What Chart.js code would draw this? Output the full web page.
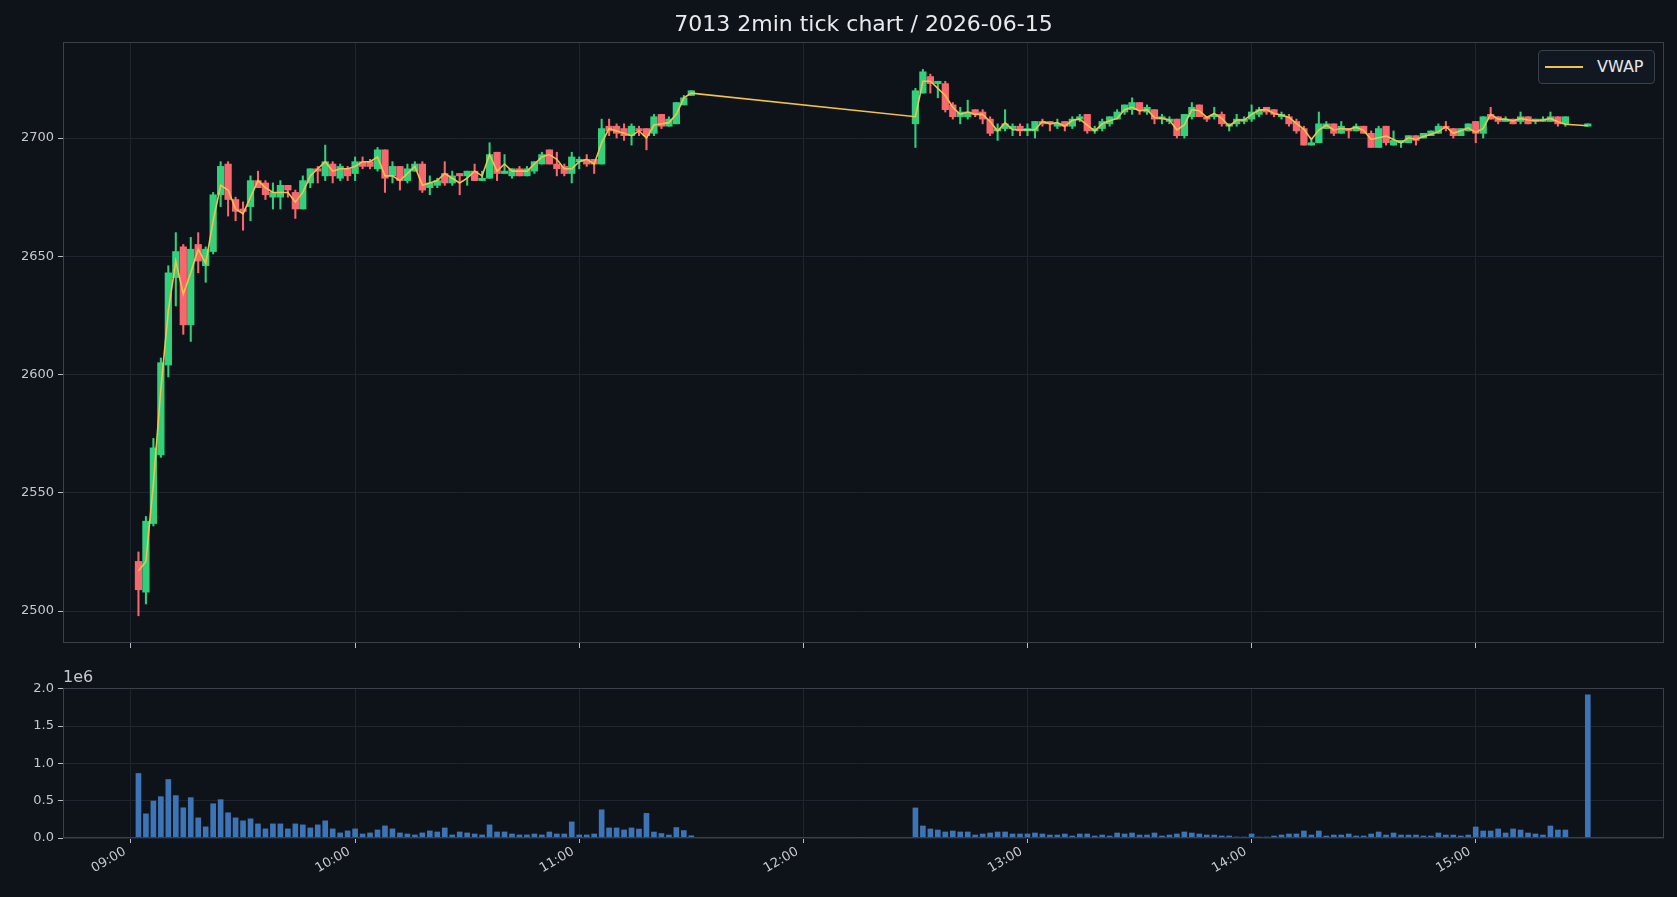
<!DOCTYPE html>
<html><head><meta charset="utf-8">
<script src="https://cdn.jsdelivr.net/npm/chart.js@4.4.1/dist/chart.umd.min.js"></script>
<style>
html,body{margin:0;padding:0;background:#0e1219;width:1677px;height:897px;overflow:hidden;font-family:"DejaVu Sans",sans-serif;}
#wrap{position:relative;width:1677px;height:897px;background:#0e1219;}
#title{position:absolute;left:63px;width:1601px;top:9px;text-align:center;color:#e8eaed;font-size:22px;line-height:30px;}
#c1{position:absolute;left:0;top:0;}
#c2{position:absolute;left:0;top:660px;}
#legend{position:absolute;left:1538px;top:50px;width:117px;height:34px;border:1px solid #3a414b;border-radius:4px;background:#121821;box-sizing:border-box;}
#legend .ln{position:absolute;left:6px;top:15px;width:38px;height:2px;background:#f2c14e;}
#legend .tx{position:absolute;left:58px;top:5px;font-size:16px;line-height:22px;color:#e6e8eb;}
#off{position:absolute;left:63px;top:667px;font-size:16px;line-height:20px;color:#c5c9cf;}
</style></head>
<body><div id="wrap">
<canvas id="c1" width="1677" height="660"></canvas>
<canvas id="c2" width="1677" height="237"></canvas>
<div id="title">7013 2min tick chart / 2026-06-15</div>
<div id="legend"><div class="ln"></div><div class="tx">VWAP</div></div>
<div id="off">1e6</div>
</div>
<script>
const times = [
"09:02","09:04","09:06","09:08","09:10","09:12","09:14","09:16","09:18","09:20","09:22","09:24","09:26","09:28","09:30",
"09:32","09:34","09:36","09:38","09:40","09:42","09:44","09:46","09:48","09:50","09:52","09:54","09:56","09:58","10:00",
"10:02","10:04","10:06","10:08","10:10","10:12","10:14","10:16","10:18","10:20","10:22","10:24","10:26","10:28","10:30",
"10:32","10:34","10:36","10:38","10:40","10:42","10:44","10:46","10:48","10:50","10:52","10:54","10:56","10:58","11:00",
"11:02","11:04","11:06","11:08","11:10","11:12","11:14","11:16","11:18","11:20","11:22","11:24","11:26","11:28","11:30",
"12:30","12:32","12:34","12:36","12:38","12:40","12:42","12:44","12:46","12:48","12:50","12:52","12:54","12:56","12:58",
"13:00","13:02","13:04","13:06","13:08","13:10","13:12","13:14","13:16","13:18","13:20","13:22","13:24","13:26","13:28",
"13:30","13:32","13:34","13:36","13:38","13:40","13:42","13:44","13:46","13:48","13:50","13:52","13:54","13:56","13:58",
"14:00","14:02","14:04","14:06","14:08","14:10","14:12","14:14","14:16","14:18","14:20","14:22","14:24","14:26","14:28",
"14:30","14:32","14:34","14:36","14:38","14:40","14:42","14:44","14:46","14:48","14:50","14:52","14:54","14:56","14:58",
"15:00","15:02","15:04","15:06","15:08","15:10","15:12","15:14","15:16","15:18","15:20","15:22","15:24","15:30"];

const opens = [
2521,2508,2537,2566,2604,2641,2654,2621,2655,2646,2652,2676,2689,2674,2670,2671,2682,2681,2675,2675,
2680,2677,2670,2681,2687,2684,2689,2683,2687,2685,2690,2690,2687,2695,2684,2688,2682,2686,2689,2679,
2680,2685,2681,2685,2684,2686,2682,2683,2694,2685,2684,2687,2684,2686,2689,2695,2689,2688,2685,2690,
2691,2691,2689,2705,2705,2704,2701,2704,2704,2702,2710,2705,2706,2714,2718,
2706,2719,2726,2723,2723,2714,2709,2709,2712,2711,2708,2703,2704,2704,2705,2703,2703,2707,2707,2705,
2707,2705,2708,2710,2703,2704,2706,2708,2711,2712,2715,2711,2712,2708,2707,2708,2701,2709,2714,2709,
2709,2710,2705,2706,2707,2708,2710,2713,2712,2709,2709,2707,2704,2697,2698,2704,2706,2702,2704,2703,
2705,2702,2696,2705,2697,2698,2698,2701,2700,2701,2702,2705,2704,2701,2703,2707,2702,2710,2709,2707,
2708,2707,2709,2707,2707,2707,2709,2706,2705];

const highs = [
2525,2540,2573,2607,2646,2660,2655,2658,2660,2654,2677,2690,2690,2675,2673,2684,2686,2682,2681,2682,
2680,2678,2684,2687,2688,2697,2690,2689,2688,2692,2692,2691,2696,2695,2690,2688,2689,2690,2690,2684,
2683,2690,2686,2685,2686,2689,2686,2698,2694,2693,2687,2688,2688,2690,2694,2695,2694,2689,2694,2692,
2693,2691,2708,2708,2706,2706,2706,2705,2704,2710,2710,2709,2715,2718,2720,
2721,2729,2727,2724,2724,2715,2713,2716,2712,2712,2709,2706,2712,2706,2706,2706,2707,2708,2707,2708,
2707,2709,2710,2710,2705,2708,2709,2712,2714,2717,2715,2714,2712,2710,2709,2708,2710,2715,2714,2709,
2713,2711,2706,2710,2709,2714,2713,2713,2712,2711,2710,2708,2705,2700,2711,2707,2706,2707,2704,2706,
2705,2703,2705,2705,2703,2699,2701,2701,2702,2703,2706,2707,2704,2704,2706,2707,2709,2713,2709,2709,
2708,2711,2709,2708,2709,2711,2709,2709,2706];

const lows = [
2498,2503,2536,2565,2599,2629,2617,2614,2643,2639,2651,2671,2667,2665,2661,2665,2679,2674,2670,2670,
2675,2666,2670,2679,2681,2682,2681,2682,2682,2682,2687,2687,2686,2677,2681,2678,2681,2686,2677,2676,
2679,2680,2680,2676,2680,2682,2682,2683,2682,2685,2683,2684,2684,2685,2689,2689,2684,2684,2681,2687,
2688,2685,2689,2701,2700,2699,2697,2701,2695,2701,2704,2705,2706,2714,2718,
2696,2719,2719,2717,2711,2708,2706,2708,2709,2706,2701,2699,2703,2701,2701,2701,2700,2705,2703,2704,
2703,2704,2707,2702,2702,2703,2705,2708,2710,2710,2710,2710,2706,2706,2706,2700,2700,2708,2709,2707,
2708,2705,2703,2705,2706,2707,2709,2710,2709,2708,2705,2702,2697,2697,2698,2704,2701,2702,2700,2703,
2702,2696,2696,2697,2697,2696,2698,2697,2700,2701,2702,2703,2700,2701,2703,2698,2700,2708,2706,2707,
2706,2706,2706,2706,2707,2707,2705,2705,2705];

const closes = [
2509,2538,2569,2605,2643,2652,2621,2653,2648,2653,2676,2688,2674,2669,2669,2682,2679,2676,2677,2680,
2678,2670,2682,2687,2686,2690,2684,2688,2684,2690,2688,2688,2695,2683,2688,2682,2687,2689,2678,2681,
2682,2681,2684,2684,2686,2682,2683,2693,2685,2686,2687,2684,2687,2690,2693,2689,2687,2685,2692,2691,
2689,2689,2704,2703,2702,2701,2705,2703,2701,2709,2705,2708,2715,2717,2720,
2720,2728,2723,2724,2712,2709,2711,2711,2710,2708,2702,2704,2706,2705,2703,2704,2707,2706,2706,2706,
2705,2708,2709,2703,2704,2707,2709,2711,2714,2715,2712,2713,2708,2709,2708,2701,2710,2713,2709,2708,
2710,2706,2706,2708,2708,2711,2712,2711,2710,2710,2706,2703,2697,2698,2706,2706,2702,2705,2703,2705,
2702,2696,2704,2698,2699,2699,2701,2699,2702,2703,2705,2704,2701,2704,2706,2702,2709,2708,2707,2708,
2706,2709,2706,2708,2708,2709,2706,2709,2706];

const vwap = [
2517,2521,2554,2594,2627,2648,2634,2643,2653,2647,2665,2680,2678,2670,2668,
2675,2682,2679,2677,2677,2677,2673,2677,2684,2687,2690,2686,2687,2687,2688,
2690,2690,2692,2684,2684,2682,2685,2688,2680,2681,2682,2685,2683,2681,2683,
2686,2684,2693,2686,2689,2686,2686,2686,2689,2692,2693,2691,2687,2687,2690,
2691,2689,2698,2704,2703,2702,2701,2703,2700,2705.5,2706,2706.5,2710,2717,2719,
2709,2724,2724,2721,2718,2713,2710,2711,2710,2710,2707,2703,2706.5,2703.5,2703.5,
2703.5,2703.5,2707,2706,2706.5,2705,2707.5,2708,2705.5,2703,2706,2707.3,2708.3,2712,2713,
2711.5,2712,2708.7,2708.3,2707.6,2703.4,2705.5,2712,2711.5,2708.7,2710.4,2708.3,2705,2707.6,2707.6,
2710,2711.8,2712,2710.4,2709.7,2708.7,2706.2,2703.7,2699.4,2703.4,2705.5,2703.4,2704,2703.7,2704.6,
2703.2,2699.4,2700.1,2700.8,2699.4,2698,2700.1,2699.4,2700.6,2701.6,2702.7,2704.8,2702,2703.1,2704.3,
2702.4,2704.1,2710,2708,2708,2707.2,2708.3,2707.6,2707.3,2707.6,2708.3,2706.9,2705.8,2705.2];

const volumes = [
865000,324000,495000,554000,784000,568000,405000,541000,270000,149000,
459000,514000,338000,270000,230000,257000,189000,122000,189000,189000,
122000,189000,176000,135000,176000,230000,122000,68000,95000,122000,
54000,68000,108000,162000,122000,68000,54000,41000,68000,95000,
81000,135000,41000,81000,68000,54000,41000,176000,81000,81000,
54000,41000,41000,54000,41000,81000,54000,54000,216000,41000,
41000,54000,378000,135000,135000,108000,135000,120000,330000,80000,
60000,40000,140000,100000,30000,
403000,161000,121000,107000,81000,94000,81000,81000,40000,54000,
67000,81000,81000,54000,54000,54000,67000,54000,40000,40000,
54000,27000,54000,54000,27000,40000,27000,67000,54000,67000,
40000,40000,67000,27000,40000,54000,81000,67000,54000,40000,
40000,27000,27000,13000,13000,54000,13000,13000,27000,40000,
54000,54000,94000,40000,94000,27000,40000,40000,54000,27000,
27000,54000,81000,40000,67000,40000,40000,40000,27000,27000,
67000,40000,40000,27000,40000,148000,94000,94000,121000,67000,
121000,107000,67000,54000,40000,161000,107000,107000,1920000];

const hourLabels = ["09:00","10:00","11:00","12:00","13:00","14:00","15:00"];
const priceTicks = [2500,2550,2600,2650,2700];
const volumeTicks = [0,500000,1000000,1500000,2000000];

const UP = '#33d07c', DOWN = '#f7686e', VW = '#f2c14e', VOL = '#3d74b5';
const GRID = '#1f252e', FRAME = '#3a414a', TXT = '#c5c9cf';
const FONT = {family: 'DejaVu Sans', size: 13};

const toMin = t => { const p = t.split(':'); return (+p[0]) * 60 + (+p[1]); };
const fmt = v => String(Math.floor(v / 60)).padStart(2, '0') + ':' + String(Math.round(v % 60)).padStart(2, '0');
const X = times.map(toMin);
const hourVals = hourLabels.map(toMin);
const candleColor = opens.map((o, i) => closes[i] >= o ? UP : DOWN);

const X_MIN = 521.8, X_MAX = 950.4;

const framePlugin = {
  id: 'frame',
  afterDraw(chart) {
    const {ctx, chartArea: a} = chart;
    ctx.save();
    ctx.strokeStyle = FRAME; ctx.lineWidth = 1;
    ctx.strokeRect(Math.round(a.left) + 0.5, Math.round(a.top) + 0.5, Math.round(a.right - a.left) - 1, Math.round(a.bottom - a.top) - 1);
    ctx.restore();
  }
};

function xScale(showLabels, h) {
  return {
    type: 'linear', min: X_MIN, max: X_MAX, offset: false,
    afterBuildTicks: s => { s.ticks = hourVals.map(v => ({value: v})); },
    afterFit: s => { s.height = h; },
    grid: {color: GRID, tickColor: '#b9bec6', tickLength: 5, drawTicks: true, offset: false},
    border: {display: false},
    ticks: {display: showLabels, color: TXT, font: FONT, autoSkip: false, maxRotation: 30, minRotation: 30,
      padding: 1, labelOffset: -6, callback: v => fmt(v)}
  };
}

Chart.defaults.font.family = 'DejaVu Sans';
Chart.defaults.animation = false;

new Chart(document.getElementById('c1'), {
  data: {
    datasets: [
      {type: 'line', label: 'VWAP', data: X.map((x, i) => ({x, y: vwap[i]})), borderColor: VW, borderWidth: 1.6,
        pointRadius: 0, tension: 0, order: 0},
      {type: 'bar', label: 'body', data: X.map((x, i) => ({x, y: [opens[i], closes[i]]})), backgroundColor: candleColor,
        barThickness: 6.6, grouped: false, minBarLength: 1.2, order: 1},
      {type: 'bar', label: 'wick', data: X.map((x, i) => ({x, y: [lows[i], highs[i]]})), backgroundColor: candleColor,
        barThickness: 1.4, grouped: false, order: 2}
    ]
  },
  options: {
    responsive: false, devicePixelRatio: 1, animation: false,
    layout: {padding: {top: 42, right: 13, left: 0, bottom: 0}},
    plugins: {legend: {display: false}, tooltip: {enabled: false}, title: {display: false}},
    scales: {
      x: xScale(false, 17),
      y: {
        type: 'linear', min: 2486.5, max: 2740.6,
        afterBuildTicks: s => { s.ticks = priceTicks.map(v => ({value: v})); },
        afterFit: s => { s.width = 63; },
        grid: {color: GRID, tickColor: '#b9bec6', tickLength: 5},
        border: {display: false},
        ticks: {color: TXT, font: FONT, padding: 4, callback: v => String(v)}
      }
    }
  },
  plugins: [framePlugin]
});

new Chart(document.getElementById('c2'), {
  type: 'bar',
  data: {
    datasets: [
      {label: 'Volume', data: X.map((x, i) => ({x, y: volumes[i]})), backgroundColor: VOL, barThickness: 5, grouped: false}
    ]
  },
  options: {
    responsive: false, devicePixelRatio: 1, animation: false,
    layout: {padding: {top: 28, right: 13, left: 0, bottom: 0}},
    plugins: {legend: {display: false}, tooltip: {enabled: false}},
    scales: {
      x: xScale(true, 59),
      y: {
        type: 'linear', min: 0, max: 2010000,
        afterBuildTicks: s => { s.ticks = volumeTicks.map(v => ({value: v})); },
        afterFit: s => { s.width = 63; },
        grid: {color: GRID, tickColor: '#b9bec6', tickLength: 5},
        border: {display: false},
        ticks: {color: TXT, font: FONT, padding: 4, callback: v => (v / 1e6).toFixed(1)}
      }
    }
  },
  plugins: [framePlugin]
});
</script>
</body></html>
